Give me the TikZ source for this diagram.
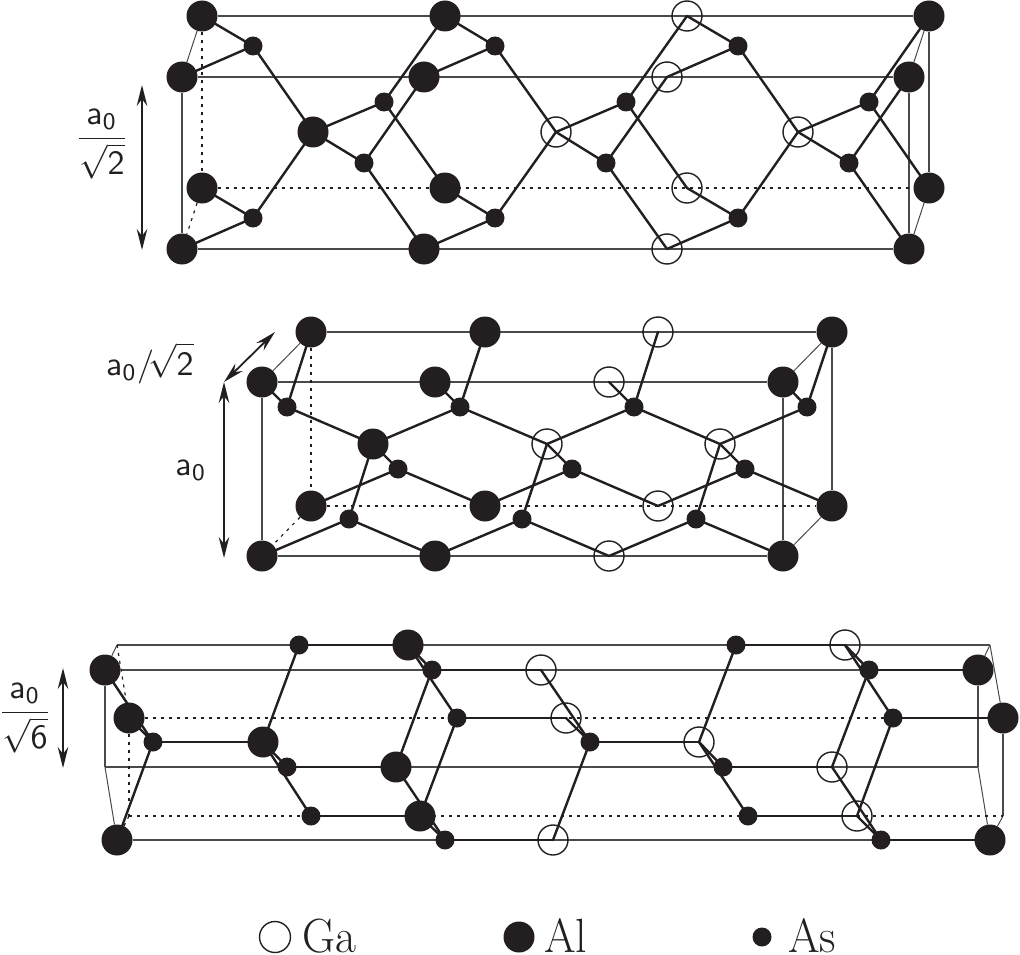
\documentclass[tikz,border=0pt]{standalone}
\usepackage{graphicx}
\usetikzlibrary{arrows.meta,backgrounds}
\definecolor{ink}{HTML}{231F20}
\definecolor{wire}{HTML}{4A4A4A}
\tikzset{
  x=1pt,y=-1pt,
  >={Stealth[length=21pt,width=10.5pt,inset=7pt]},
  al/.style={circle,fill=ink,inner sep=0pt,minimum size=31pt},
  as/.style={circle,fill=ink,inner sep=0pt,minimum size=19pt},
  ga/.style={circle,draw=ink,line width=1.4pt,inner sep=0pt,minimum size=30pt},
  bond/.style={draw=ink,line width=2.4pt,line cap=round},
  edge/.style={draw=wire,line width=1.5pt},
  thinedge/.style={draw=wire,line width=1pt},
  hidden/.style={draw=ink,line width=1.2pt,dash pattern=on 3pt off 5pt},
  dim/.style={draw=ink,line width=1.8pt,<->},
  lbl/.style={text=ink,inner sep=0pt},
  leg/.style={text=ink,inner sep=0pt,anchor=base west,font=\fontsize{48}{52}\selectfont}
}
\newcommand{\biglabel}[1]{\scalebox{3.4}{$\displaystyle #1$}}
\begin{document}
\begin{tikzpicture}
\useasboundingbox (0,0) rectangle (1020,955);
% ---- top panel atoms
\foreach \n/\p in {ta1/{202,16},ta2/{182,77},ta3/{202,188},ta4/{182,249},ta5/{313,132},ta6/{445,16},ta7/{424,77},ta8/{445,188},ta9/{424,249},ta10/{929,16},ta11/{909,77},ta12/{929,188},ta13/{909,249}}
  \node[al] (\n) at (\p) {};
\foreach \n/\p in {tg1/{687,16},tg2/{667,77},tg3/{687,188},tg4/{667,249},tg5/{556,132},tg6/{798,132}}
  \node[ga] (\n) at (\p) {};
\foreach \n/\p in {ts1/{253,46},ts2/{253,218},ts3/{384,102},ts4/{364,163},ts5/{495,46},ts6/{495,218},ts7/{626,102},ts8/{606,163},ts9/{738,46},ts10/{738,218},ts11/{869,102},ts12/{849,163}}
  \node[as] (\n) at (\p) {};
% ---- middle panel atoms
\foreach \n/\p in {ma1/{311,332},ma2/{262,382},ma3/{311,506},ma4/{262,556},ma5/{373,444},ma6/{485,332},ma7/{435,382},ma8/{485,506},ma9/{435,556},ma10/{832,332},ma11/{783,382},ma12/{832,506},ma13/{783,556}}
  \node[al] (\n) at (\p) {};
\foreach \n/\p in {mg1/{658,332},mg2/{609,382},mg3/{658,506},mg4/{609,556},mg5/{547,444},mg6/{720,444}}
  \node[ga] (\n) at (\p) {};
\foreach \n/\p in {ms1/{287,407},ms2/{398,469},ms3/{349,519},ms4/{460,407},ms5/{572,469},ms6/{522,519},ms7/{634,407},ms8/{745,469},ms9/{696,519},ms10/{807,407}}
  \node[as] (\n) at (\p) {};
% ---- bottom panel atoms
\foreach \n/\p in {ba1/{105,670},ba2/{129,718},ba3/{117,840},ba4/{263,742},ba5/{408,645},ba6/{396,767},ba7/{420,816},ba8/{978,670},ba9/{1003,718},ba10/{990,840}}
  \node[al] (\n) at (\p) {};
\foreach \n/\p in {bg1/{541,670},bg2/{566,718},bg3/{553,840},bg4/{699,742},bg5/{845,645},bg6/{832,767},bg7/{857,816}}
  \node[ga] (\n) at (\p) {};
\foreach \n/\p in {bs1/{153,742},bs2/{287,767},bs3/{311,816},bs4/{299,645},bs5/{432,670},bs6/{457,718},bs7/{445,840},bs8/{590,742},bs9/{723,767},bs10/{748,816},bs11/{736,645},bs12/{869,670},bs13/{893,718},bs14/{881,840}}
  \node[as] (\n) at (\p) {};
% ---- free corners of the bottom cell
\coordinate (c1) at (117,645);
\coordinate (c2) at (990,645);
\coordinate (c3) at (105,767);
\coordinate (c4) at (978,767);
\coordinate (c5) at (129,816);
\coordinate (c6) at (1003,816);
% ---- dimension arrow ends
\coordinate (d1) at (142,85);
\coordinate (d2) at (142,250);
\coordinate (d3) at (224,382);
\coordinate (d4) at (224,558);
\coordinate (d5) at (275,332);
\coordinate (d6) at (63,668);
\coordinate (d7) at (63,768);
\begin{scope}[on background layer]
  % cell edges
  \foreach \u/\v in {ta1/ta10,ta2/ta11,ta4/ta13,ta2/ta4,ta11/ta13,ta10/ta12,
                     ma1/ma10,ma2/ma11,ma4/ma13,ma2/ma4,ma11/ma13,ma10/ma12,
                     c1/c2,ba1/ba8,c3/c4,ba3/ba10,ba1/c3,ba8/c4,ba9/c6}
    \draw[edge] (\u) -- (\v);
  \foreach \u/\v in {ta1/ta2,ta10/ta11,ta12/ta13,ma1/ma2,ma10/ma11,ma12/ma13,
                     ba1/c1,ba8/c2,c3/ba3,c4/ba10,c2/ba9,c6/ba10}
    \draw[thinedge] (\u) -- (\v);
  \foreach \u/\v in {ta3/ta12,ta1/ta3,ta3/ta4,ma3/ma12,ma1/ma3,ma3/ma4,
                     ba2/ba9,c5/c6,ba2/c5,c1/ba2,c5/ba3}
    \draw[hidden] (\u) -- (\v);
  % bonds
  \foreach \u/\v in {ta1/ts1,ta2/ts1,ts1/ta5,ta3/ts2,ta4/ts2,ts2/ta5,ta5/ts3,ta5/ts4,ts3/ta6,ts3/ta8,ts4/ta7,ts4/ta9,
                     ta6/ts5,ta7/ts5,ts5/tg5,ta8/ts6,ta9/ts6,ts6/tg5,tg5/ts7,tg5/ts8,ts7/tg1,ts7/tg3,ts8/tg2,ts8/tg4,
                     tg1/ts9,tg2/ts9,ts9/tg6,tg3/ts10,tg4/ts10,ts10/tg6,tg6/ts11,tg6/ts12,ts11/ta10,ts11/ta12,ts12/ta11,ts12/ta13,
                     ma1/ms1,ma2/ms1,ms1/ma5,ma5/ms4,ma5/ms2,ma5/ms3,ms2/ma3,ms2/ma8,ms3/ma4,ms3/ma9,
                     ma6/ms4,ma7/ms4,ms4/mg5,mg5/ms7,mg5/ms5,mg5/ms6,ms5/ma8,ms5/mg3,ms6/ma9,ms6/mg4,
                     mg1/ms7,mg2/ms7,ms7/mg6,mg6/ms10,mg6/ms8,mg6/ms9,ms8/mg3,ms8/ma12,ms9/mg4,ms9/ma13,
                     ma10/ms10,ma11/ms10,
                     ba1/bs1,ba2/bs1,bs1/ba4,bs1/ba3,ba4/bs2,ba4/bs3,ba4/bs4,bs4/ba5,bs2/ba6,bs3/ba7,
                     ba5/bs5,ba5/bs6,bs5/ba6,bs6/ba7,ba7/bs7,ba6/bs7,bs5/bg1,bs6/bg2,bs7/bg3,
                     bg1/bs8,bg2/bs8,bs8/bg4,bs8/bg3,bg4/bs9,bg4/bs10,bg4/bs11,bs11/bg5,bs9/bg6,bs10/bg7,
                     bg5/bs12,bg5/bs13,bs12/bg6,bs13/bg7,bg6/bs14,bg7/bs14,bs12/ba8,bs13/ba9,bs14/ba10}
    \draw[bond] (\u.center) -- (\v.center);
\end{scope}
% ---- dimensions
\draw[dim] (d1) -- (d2);
\draw[dim] (d3) -- (d4);
\draw[dim] (d3) -- (d5);
\draw[dim] (d6) -- (d7);
\node[lbl] (l1) at (102,144) {\biglabel{\frac{\mathsf{a_0}}{\sqrt{\mathsf{2}}}}};
\node[lbl] (l2) at (150,363) {\biglabel{\mathsf{a_0}/\!\sqrt{\mathsf{2}}}};
\node[lbl] (l3) at (191,470) {\biglabel{\mathsf{a_0}}};
\node[lbl] (l4) at (25,718) {\biglabel{\frac{\mathsf{a_0}}{\sqrt{\mathsf{6}}}}};
% ---- legend
\node[ga,minimum size=31pt] (k1) at (275,937) {};
\node[leg] (t1) at (302,952) {\scalebox{.95}[1]{Ga}};
\node[al] (k2) at (519,937) {};
\node[leg] (t2) at (544,952) {\scalebox{.95}[1]{Al}};
\node[as] (k3) at (762,937) {};
\node[leg] (t3) at (788,952) {\scalebox{.95}[1]{As}};
\end{tikzpicture}
\end{document}
